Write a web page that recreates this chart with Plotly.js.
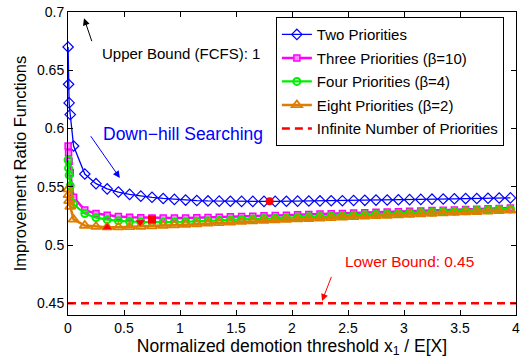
<!DOCTYPE html>
<html>
<head>
<meta charset="utf-8">
<script src="https://cdn.plot.ly/plotly-3.0.1.min.js"></script>
<style>html,body{margin:0;padding:0;background:#fff;}#chart{width:520px;height:364px;}</style>
</head>
<body>
<div id="chart"></div>
<script>
// x positions of the computed points (x1 / E[X])
const xVals = [0.001, 0.005, 0.01, 0.02, 0.05, 0.15, 0.25, 0.35, 0.45, 0.55, 0.65, 0.75, 0.85, 0.95,
  1.05, 1.15, 1.25, 1.35, 1.45, 1.55, 1.65, 1.75, 1.85, 1.95, 2.05, 2.15, 2.25, 2.35, 2.45, 2.55,
  2.65, 2.75, 2.85, 2.95, 3.05, 3.15, 3.25, 3.35, 3.45, 3.55, 3.65, 3.75, 3.85, 3.95];

const twoPriorities = [0.670, 0.638, 0.622, 0.612, 0.585, 0.561, 0.5527, 0.5482, 0.5455, 0.5435, 0.5420, 0.5410, 0.5400, 0.5392,
  0.5386, 0.5382, 0.5379, 0.5377, 0.5376, 0.5375, 0.5375, 0.5375, 0.5375, 0.5376, 0.5377, 0.5378, 0.5379, 0.5380, 0.5381, 0.5383,
  0.5384, 0.5386, 0.5387, 0.5389, 0.5390, 0.5392, 0.5394, 0.5395, 0.5397, 0.5399, 0.5400, 0.5402, 0.5404, 0.5405];

const threePriorities = [0.585, 0.579, 0.572, 0.562, 0.541, 0.530, 0.527, 0.5255, 0.5245, 0.5238, 0.5235, 0.5233, 0.5232, 0.5232,
  0.5233, 0.5235, 0.5237, 0.5239, 0.5242, 0.5245, 0.5248, 0.5251, 0.5254, 0.5257, 0.5260, 0.5263, 0.5266, 0.5269, 0.5272, 0.5275,
  0.5278, 0.5281, 0.5284, 0.5287, 0.5290, 0.5293, 0.5296, 0.5299, 0.5302, 0.5305, 0.5308, 0.5311, 0.5314, 0.5318];

const fourPriorities = [0.573, 0.566, 0.560, 0.551, 0.535, 0.527, 0.5235, 0.5218, 0.5208, 0.5202, 0.5198, 0.5197, 0.5197, 0.5198,
  0.5200, 0.5204, 0.5208, 0.5212, 0.5215, 0.5219, 0.5223, 0.5227, 0.5231, 0.5234, 0.5238, 0.5242, 0.5246, 0.5250, 0.5253, 0.5257,
  0.5261, 0.5265, 0.5269, 0.5272, 0.5276, 0.5280, 0.5284, 0.5288, 0.5291, 0.5295, 0.5299, 0.5303, 0.5307, 0.5310];

const eightPriorities = [0.548, 0.543, 0.538, 0.533, 0.522, 0.5168, 0.5158, 0.5154, 0.5154, 0.5156, 0.5159, 0.5163, 0.5167, 0.5171,
  0.5176, 0.5181, 0.5186, 0.5191, 0.5196, 0.5201, 0.5206, 0.5210, 0.5214, 0.5218, 0.5222, 0.5226, 0.5230, 0.5234, 0.5238, 0.5242,
  0.5246, 0.5250, 0.5254, 0.5258, 0.5262, 0.5266, 0.5270, 0.5274, 0.5278, 0.5282, 0.5286, 0.5290, 0.5294, 0.5298];

// Infinite number of priorities: lower bound
const infX = [0, 4];
const infY = [0.45, 0.45];

// optimum points found by down-hill searching
const optX = [1.8, 0.75, 0.645, 0.35];
const optY = [0.5376, 0.5219, 0.5196, 0.5153];
const optSymbols = ['circle', 'square', 'triangle-down', 'triangle-up'];

const seriesNames = ['Two Priorities', 'Three Priorities (\u03B2=10)', 'Four Priorities (\u03B2=4)',
  'Eight Priorities (\u03B2=2)', 'Infinite Number of Priorities'];

const xTicks = [0, 0.5, 1, 1.5, 2, 2.5, 3, 3.5, 4];
const yTicks = [0.45, 0.5, 0.55, 0.6, 0.65, 0.7];

const FONT = 'Liberation Sans, Arial, Helvetica, sans-serif';

const traces = [
  {x: xVals, y: twoPriorities, name: seriesNames[0], legendgroup: 'g1', mode: 'lines+markers', cliponaxis: false,
   line: {color: '#0000ff', width: 1.3},
   marker: {symbol: 'diamond-open', size: 8, color: '#0000ff', line: {width: 1.2, color: '#0000ff'}}},
  {x: xVals, y: threePriorities, name: seriesNames[1], legendgroup: 'g2', mode: 'lines+markers', cliponaxis: false,
   line: {color: '#ff00ff', width: 2.5},
   marker: {symbol: 'square', size: 6, color: '#ff88ff', line: {width: 1.5, color: '#ff00ff'}}},
  {x: xVals, y: fourPriorities, name: seriesNames[2], legendgroup: 'g3', mode: 'lines+markers', cliponaxis: false,
   line: {color: '#00ee00', width: 2.2},
   marker: {symbol: 'circle-open', size: 7, color: '#00ee00', line: {width: 2, color: '#00ee00'}}},
  {x: xVals, y: eightPriorities, name: seriesNames[3], legendgroup: 'g4', mode: 'lines+markers', cliponaxis: false,
   line: {color: '#de7e00', width: 2.5},
   marker: {symbol: 'triangle-up-open', size: 9, color: '#de7e00', line: {width: 1.8, color: '#de7e00'}}},
  {x: infX, y: infY, name: seriesNames[4], legendgroup: 'g5', mode: 'lines', cliponaxis: false,
   line: {color: '#ff0000', width: 2.5, dash: '8px,5px'}},
  {x: optX, y: optY, mode: 'markers', showlegend: false, cliponaxis: false,
   marker: {symbol: optSymbols, size: 8, color: '#ff0000', line: {width: 0}}}
];

const layout = {
  width: 520, height: 364,
  margin: {l: 68, r: 4, t: 12, b: 49},
  paper_bgcolor: '#fff', plot_bgcolor: '#fff',
  font: {family: FONT, size: 14, color: '#000'},
  showlegend: true,
  legend: {x: 0.464, xanchor: 'left', y: 0.983, yanchor: 'top', bgcolor: '#fff',
    bordercolor: '#000', borderwidth: 1, font: {family: FONT, size: 15, color: '#000'},
    tracegroupgap: 1, traceorder: 'grouped'},
  xaxis: {range: [0, 4], tickvals: xTicks, ticks: 'inside', ticklen: 5, tickcolor: '#000',
    showline: true, linecolor: '#000', linewidth: 1, mirror: 'ticks', showgrid: false, zeroline: false,
    ticklabeloverflow: 'allow',
    tickfont: {family: FONT, size: 14, color: '#000'},
    title: {text: 'Normalized demotion threshold x<sub>1</sub> / E[X]', font: {family: FONT, size: 17.5, color: '#000'}, standoff: 2}},
  yaxis: {range: [0.44, 0.7], tickvals: yTicks, ticks: 'inside', ticklen: 5, tickcolor: '#000',
    showline: true, linecolor: '#000', linewidth: 1, mirror: 'ticks', showgrid: false, zeroline: false,
    ticklabeloverflow: 'allow',
    tickfont: {family: FONT, size: 14, color: '#000'},
    title: {text: 'Improvement Ratio Functions', font: {family: FONT, size: 16.5, color: '#000'}, standoff: 6}},
  annotations: [
    {x: 0.29, y: 0.664, xref: 'x', yref: 'y', text: 'Upper Bound (FCFS): 1', showarrow: false,
     xanchor: 'left', yanchor: 'middle', font: {family: FONT, size: 15, color: '#000'}},
    {x: 0.143, y: 0.6946, xref: 'x', yref: 'y', ax: 0.217, ay: 0.6737, axref: 'x', ayref: 'y',
     text: '', showarrow: true, arrowhead: 2, arrowsize: 1.4, arrowwidth: 1, arrowcolor: '#000'},
    {x: 0.299, y: 0.5955, xref: 'x', yref: 'y', text: 'Down\u2212hill Searching', showarrow: false,
     xanchor: 'left', yanchor: 'middle', font: {family: FONT, size: 17.5, color: '#0000ff'}},
    {x: 0.463, y: 0.5576, xref: 'x', yref: 'y', ax: 0.194, ay: 0.5947, axref: 'x', ayref: 'y',
     text: '', showarrow: true, arrowhead: 2, arrowsize: 1.4, arrowwidth: 1, arrowcolor: '#0000ff'},
    {x: 2.458, y: 0.486, xref: 'x', yref: 'y', text: 'Lower Bound: 0.45', showarrow: false,
     xanchor: 'left', yanchor: 'middle', font: {family: FONT, size: 15.4, color: '#ff0000'}},
    {x: 2.268, y: 0.452, xref: 'x', yref: 'y', ax: 2.357, ay: 0.474, axref: 'x', ayref: 'y',
     text: '', showarrow: true, arrowhead: 2, arrowsize: 1.4, arrowwidth: 1, arrowcolor: '#ff0000'}
  ]
};

Plotly.newPlot('chart', traces, layout, {staticPlot: true, displayModeBar: false});
</script>
</body>
</html>
